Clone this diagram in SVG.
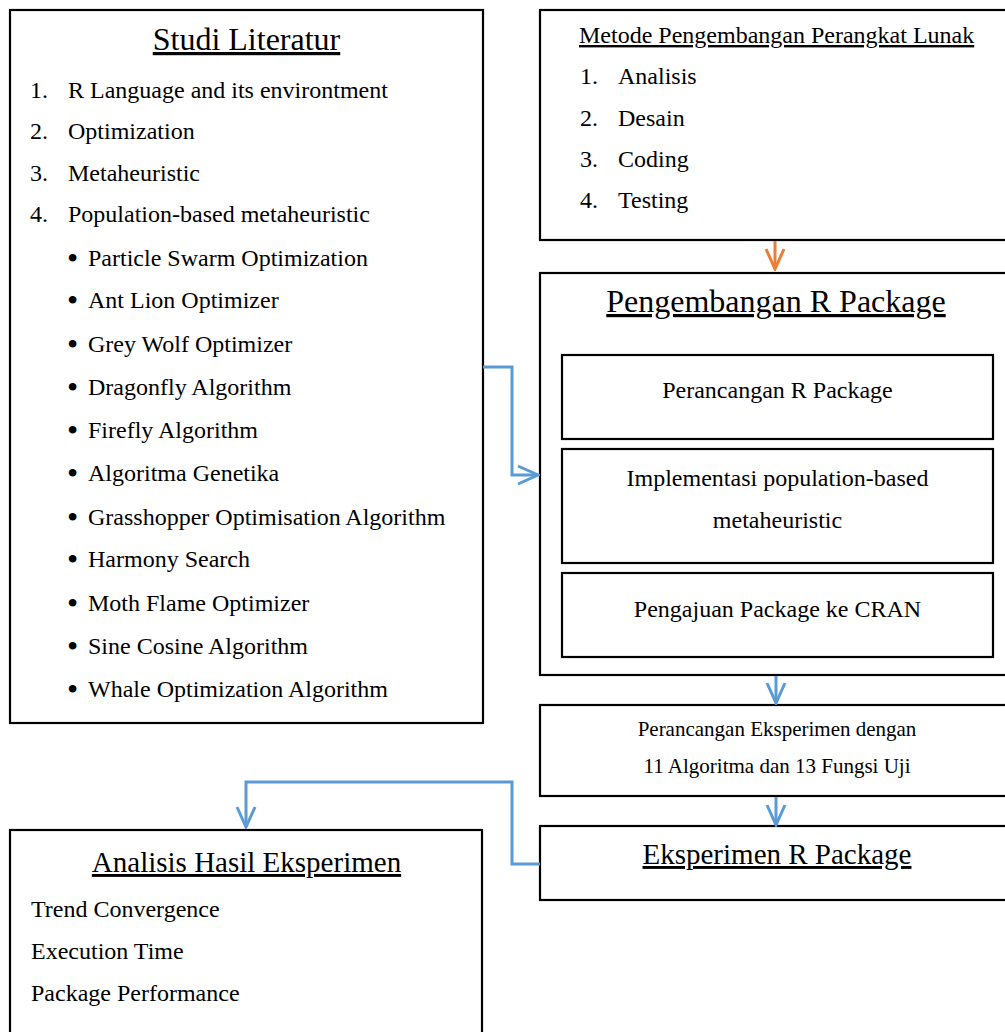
<svg xmlns="http://www.w3.org/2000/svg" width="1005" height="1032" viewBox="0 0 1005 1032">
<defs>
<style>
.box{fill:#fff;stroke:#000;stroke-width:2.2}
text{font-family:"Liberation Serif","Times New Roman",serif;fill:#000}
.t32{font-size:32px}
.t29{font-size:29px}
.t24{font-size:24px}
.t21{font-size:21px}
.u{text-decoration:underline}
.mid{text-anchor:middle}
.bul{font-size:32px}
.blue{fill:none;stroke:#5B9BD5;stroke-width:3}
.orange{fill:none;stroke:#ED7D31;stroke-width:3}
</style>
<marker id="ab" viewBox="0 0 24 24" markerWidth="24" markerHeight="24" refX="22" refY="12" orient="auto" markerUnits="userSpaceOnUse">
<path d="M2,3 L22,12 L2,21" fill="none" stroke="#5B9BD5" stroke-width="3"/>
</marker>
<marker id="ao" viewBox="0 0 24 24" markerWidth="24" markerHeight="24" refX="22" refY="12" orient="auto" markerUnits="userSpaceOnUse">
<path d="M2,3 L22,12 L2,21" fill="none" stroke="#ED7D31" stroke-width="3"/>
</marker>
</defs>
<rect width="1005" height="1032" fill="#fff"/>

<g id="studi-literatur">
<rect class="box" x="10" y="10" width="473" height="713"/>
<text class="t32 u mid" x="246.5" y="50">Studi Literatur</text>
<g class="t24">
<text x="30" y="98">1.</text><text x="68" y="98">R Language and its environtment</text>
<text x="30" y="139">2.</text><text x="68" y="139">Optimization</text>
<text x="30" y="181">3.</text><text x="68" y="181">Metaheuristic</text>
<text x="30" y="222">4.</text><text x="68" y="222">Population-based metaheuristic</text>
</g>
<g class="t24">
<text x="67" y="269"><tspan class="bul">•</tspan><tspan x="88" y="266">Particle Swarm Optimization</tspan></text>
<text x="67" y="311"><tspan class="bul">•</tspan><tspan x="88" y="308">Ant Lion Optimizer</tspan></text>
<text x="67" y="355"><tspan class="bul">•</tspan><tspan x="88" y="352">Grey Wolf Optimizer</tspan></text>
<text x="67" y="398"><tspan class="bul">•</tspan><tspan x="88" y="395">Dragonfly Algorithm</tspan></text>
<text x="67" y="441"><tspan class="bul">•</tspan><tspan x="88" y="438">Firefly Algorithm</tspan></text>
<text x="67" y="484"><tspan class="bul">•</tspan><tspan x="88" y="481">Algoritma Genetika</tspan></text>
<text x="67" y="528"><tspan class="bul">•</tspan><tspan x="88" y="525">Grasshopper Optimisation Algorithm</tspan></text>
<text x="67" y="570"><tspan class="bul">•</tspan><tspan x="88" y="567">Harmony Search</tspan></text>
<text x="67" y="614"><tspan class="bul">•</tspan><tspan x="88" y="611">Moth Flame Optimizer</tspan></text>
<text x="67" y="657"><tspan class="bul">•</tspan><tspan x="88" y="654">Sine Cosine Algorithm</tspan></text>
<text x="67" y="700"><tspan class="bul">•</tspan><tspan x="88" y="697">Whale Optimization Algorithm</tspan></text>
</g>
</g>

<g id="metode">
<rect class="box" x="540" y="10" width="480" height="230"/>
<text class="t24 u" x="579" y="43">Metode Pengembangan Perangkat Lunak</text>
<g class="t24">
<text x="580" y="84">1.</text><text x="618" y="84">Analisis</text>
<text x="580" y="126">2.</text><text x="618" y="126">Desain</text>
<text x="580" y="167">3.</text><text x="618" y="167">Coding</text>
<text x="580" y="208">4.</text><text x="618" y="208">Testing</text>
</g>
</g>

<g id="pengembangan">
<rect class="box" x="540" y="273" width="480" height="402"/>
<text class="t32 u mid" x="776" y="312">Pengembangan R Package</text>
<g id="perancangan-package">
<rect class="box" x="562" y="355" width="431" height="84"/>
<text class="t24 mid" x="777.5" y="398">Perancangan R Package</text>
</g>
<g id="implementasi">
<rect class="box" x="562" y="449" width="431" height="114"/>
<text class="t24 mid" x="777.5" y="486">Implementasi population-based</text>
<text class="t24 mid" x="777.5" y="528">metaheuristic</text>
</g>
<g id="pengajuan">
<rect class="box" x="562" y="573" width="431" height="84"/>
<text class="t24 mid" x="777.5" y="617">Pengajuan Package ke CRAN</text>
</g>
</g>

<g id="perancangan-eksperimen">
<rect class="box" x="540" y="705" width="480" height="91"/>
<text class="t21 mid" x="777" y="736">Perancangan Eksperimen dengan</text>
<text class="t21 mid" x="777" y="773">11 Algoritma dan 13 Fungsi Uji</text>
</g>

<g id="eksperimen">
<rect class="box" x="540" y="826" width="480" height="74"/>
<text class="t29 u mid" x="777" y="864">Eksperimen R Package</text>
</g>

<g id="analisis">
<rect class="box" x="10" y="830" width="472" height="220"/>
<text class="t29 u mid" x="246.5" y="872">Analisis Hasil Eksperimen</text>
<text class="t24" x="31" y="917">Trend Convergence</text>
<text class="t24" x="31" y="959">Execution Time</text>
<text class="t24" x="31" y="1001">Package Performance</text>
</g>

<g id="connectors">
<path class="orange" d="M775,241 V269" marker-end="url(#ao)"/>
<path class="blue" d="M483,367 H512 V475 H538" marker-end="url(#ab)"/>
<path class="blue" d="M776,676 V703" marker-end="url(#ab)"/>
<path class="blue" d="M776,797 V825" marker-end="url(#ab)"/>
<path class="blue" d="M540,864 H512 V782 H246 V827" marker-end="url(#ab)"/>
</g>
</svg>
